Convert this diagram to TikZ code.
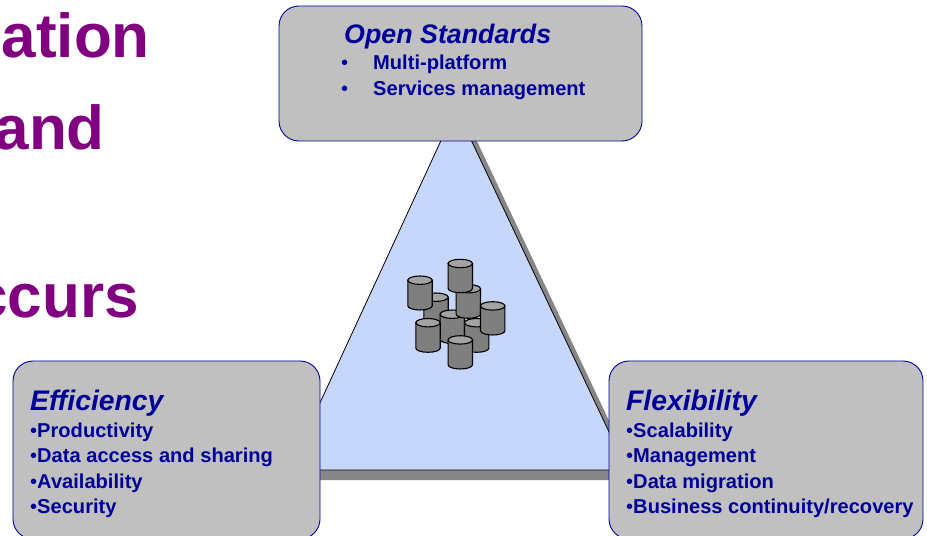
\documentclass[tikz,border=0pt]{standalone}
\usepackage{fontspec}
\setmainfont{Liberation Sans}
\definecolor{navy}{HTML}{000099}
\definecolor{boxgray}{HTML}{C0C0C0}
\definecolor{trifill}{HTML}{C6D7FB}
\definecolor{shadowgray}{HTML}{868686}
\definecolor{cyltop}{HTML}{A3A3A3}
\definecolor{cylbody}{HTML}{7F7F7F}
\definecolor{headline}{HTML}{800080}
\newcommand{\fsz}[1]{\fontsize{#1bp}{#1bp}\selectfont}
\newcommand{\dotb}{{\mdseries •}}
\newcommand{\cylinder}[3]{% x centre, y top edge, y bottom edge
  \path[cylside] (#1-12.2,#2+4.2) -- (#1-12.2,#3-4.2) arc[x radius=12.2,y radius=4.2,start angle=180,end angle=0] -- (#1+12.2,#2+4.2) -- cycle;
  \path[cylcap] (#1,#2+4.2) ellipse[x radius=12.2,y radius=4.2];
}
\tikzset{
  panel/.style={draw=navy,fill=boxgray,line width=0.9bp,rounded corners=20bp,inner sep=0pt},
  head/.style={anchor=base west,inner sep=0pt,text=headline,font=\fsz{62}\bfseries},
  title/.style={anchor=base west,inner sep=0pt,text=navy,font=\fsz{28.3}\bfseries\itshape},
  item/.style={anchor=base west,inner sep=0pt,text=navy,font=\fsz{20.1}\bfseries},
  cylside/.style={draw=black,fill=cylbody,line width=1.1bp},
  cylcap/.style={draw=black,fill=cyltop,line width=1.1bp},
}
\begin{document}
\begin{tikzpicture}[x=1bp,y=-1bp]
\useasboundingbox (0,0) rectangle (927,536);
\clip (0,0) rectangle (927,536);
\fill[white] (0,0) rectangle (927,536);
% headline fragments
\node[head,anchor=base east] (h1) at (150,58) {ation};
\node[head,anchor=base east] (h2) at (105,150) {and};
\node[head,anchor=base east] (h3) at (139,318) {ccurs};
% triangle with shadow
\fill[shadowgray] (466,118) -- (637,480) -- (299,480) -- cycle;
\draw[fill=trifill,draw=black,line width=0.8bp] (456,108) -- (627,470) -- (289,470) -- cycle;
% cylinders
\begin{scope}[shift={(390,250)}]
\cylinder{46}{43}{77}
\cylinder{62.3}{60}{93.5}
\cylinder{86.7}{68.5}{102.3}
\cylinder{78.3}{34.5}{68.3}
\cylinder{102.7}{51.7}{85}
\cylinder{70.3}{9.3}{42.7}
\cylinder{30}{26}{60}
\cylinder{38}{68.5}{102.3}
\cylinder{70.3}{85.7}{119}
\end{scope}
% panels
\node[panel,minimum width=363bp,minimum height=135bp] (top) at (460.5,73.5) {};
\node[panel,minimum width=307bp,minimum height=178bp] (left) at (166.5,450) {};
\node[panel,minimum width=314bp,minimum height=178bp] (right) at (766,450) {};
% top panel text
\node[title,font=\fsz{26.8}\bfseries\itshape] (t1) at (344,44) {Open Standards};
\node[item] (b1) at (341,70) {\dotb};
\node[item] (i1) at (373,70) {Multi-platform};
\node[item] (b2) at (341,96) {\dotb};
\node[item] (i2) at (373,96) {Services management};
% left panel text
\node[title] (t2) at (30,410) {Efficiency};
\node[item] (l1) at (30,437) {\dotb Productivity};
\node[item] (l2) at (30,462) {\dotb Data access and sharing};
\node[item] (l3) at (30,488) {\dotb Availability};
\node[item] (l4) at (30,513) {\dotb Security};
% right panel text
\node[title] (t3) at (626,410) {Flexibility};
\node[item] (r1) at (626,437) {\dotb Scalability};
\node[item] (r2) at (626,462) {\dotb Management};
\node[item] (r3) at (626,488) {\dotb Data migration};
\node[item] (r4) at (626,513) {\dotb Business continuity/recovery};
\end{tikzpicture}
\end{document}
